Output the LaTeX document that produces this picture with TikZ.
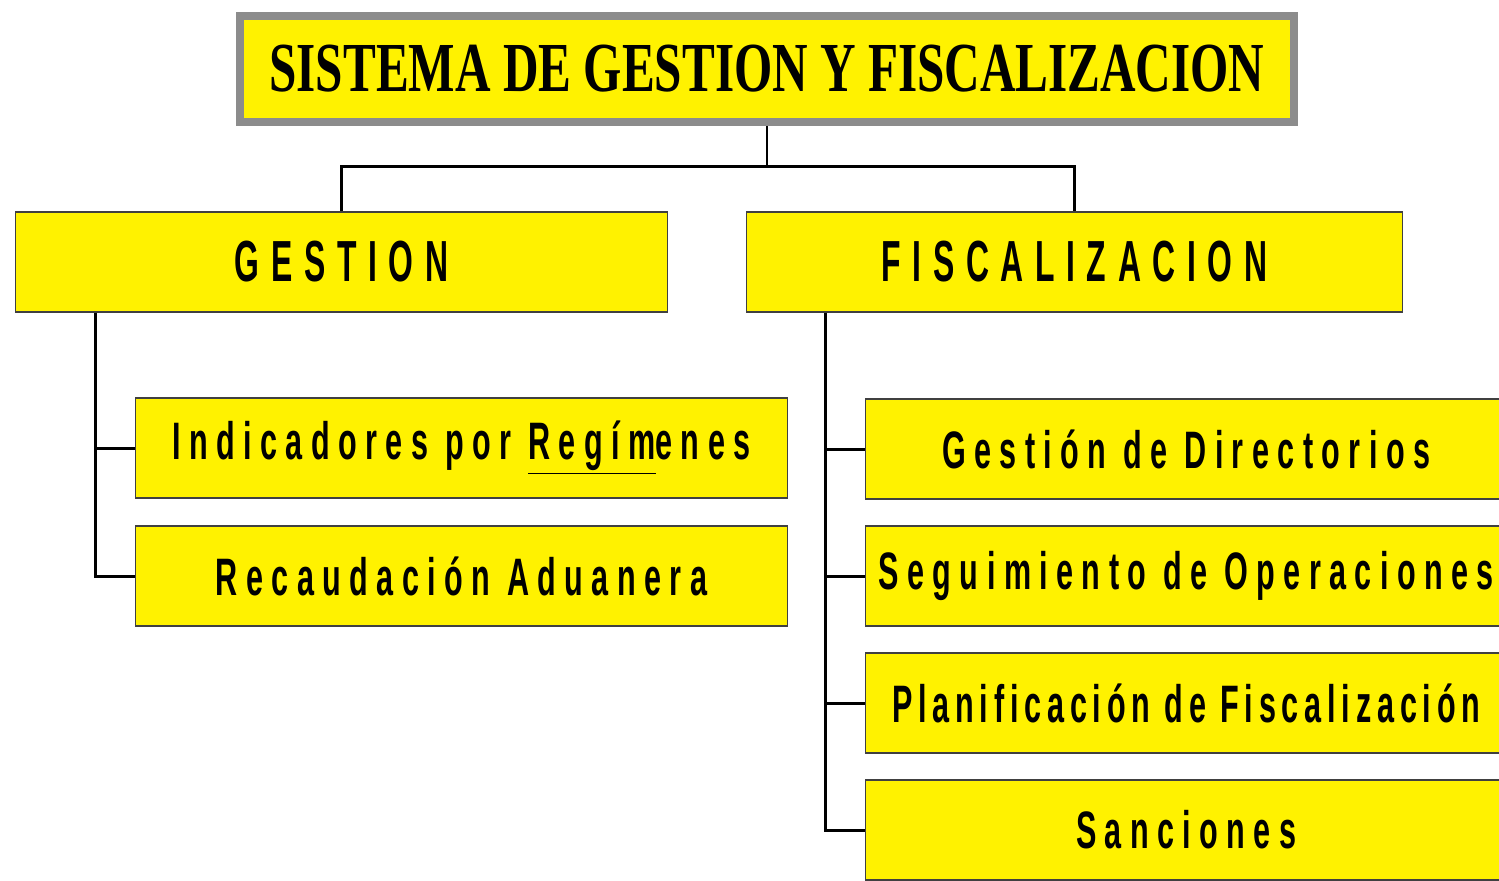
\documentclass[tikz,border=0pt]{standalone}
\usepackage{fontspec}
\newfontfamily\titlefont[FakeStretch=0.7]{Liberation Serif}
\newfontfamily\headfont[FakeStretch=0.55,LetterSpace=20]{Liberation Sans}
\newfontfamily\itemfont[FakeStretch=0.58,LetterSpace=16]{Liberation Sans}

\begin{document}
\begin{tikzpicture}[x=0.02cm,y=-0.02cm]
        \tikzstyle{every node}=[inner sep=0pt]
        \tikzstyle{box}=[draw=black!75, line width=0.6pt, fill=yellow, minimum width=13.06cm, minimum height=2cm]
        \tikzstyle{headbox}=[box, font=\fontsize{33}{36}\selectfont\headfont\bfseries]
        \tikzstyle{itembox}=[box, font=\fontsize{30}{34}\selectfont\itemfont\bfseries]
        \tikzstyle{link}=[draw=black, line width=1.7pt]
        \useasboundingbox (0,0) rectangle (1499,880);
        \clip (0,0) rectangle (1499,880);

        % top of the tree
        \node[fill=yellow, draw=black!45, line width=4.5pt, minimum width=21.08cm, minimum height=2.12cm,
              font=\fontsize{40}{44}\selectfont\titlefont\bfseries] (sistema) at (767,69) {SISTEMA DE GESTION Y FISCALIZACION};

        \node[headbox] (gestion) at (341.5,262) {GESTION};
        \node[headbox, minimum width=13.14cm] (fiscal) at (1074.5,262) {FISCALIZACION};

        % gestion
        \node[itembox] (indic) at (461.5,448) {Indicadores por \underline{Regím}enes};
        \node[itembox] (recaud) at (461.5,576) {Recaudación Aduanera};

        % fiscalizacion
        \node[itembox] (directorios) at (1191.5,449) {\hspace*{-6pt}Gestión de Directorios};
        \node[itembox] (seguimiento) at (1191.5,576) {\hspace*{-6pt}Seguimiento de Operaciones};
        \node[itembox] (planif) at (1191.5,703) {\hspace*{-6pt}\addfontfeatures{LetterSpace=11}Planificación de Fiscalización};
        \node[itembox] (sanciones) at (1191.5,830) {\hspace*{-6pt}Sanciones};

        \draw[link] (sistema.south) -- ++(0,41) coordinate (bus) -| (gestion.north);
        \draw[link] (bus) -| (fiscal.north);

        \draw[link] (gestion.south west) ++(81,0) |- (recaud.west);
        \draw[link] (indic.west) -- ++(-39,0);

        \draw[link] (fiscal.south west) ++(80,0) |- (sanciones.west);
        \foreach \n in {directorios, seguimiento, planif}
            \draw[link] (\n.west) -- ++(-39,0);
\end{tikzpicture}
\end{document}
